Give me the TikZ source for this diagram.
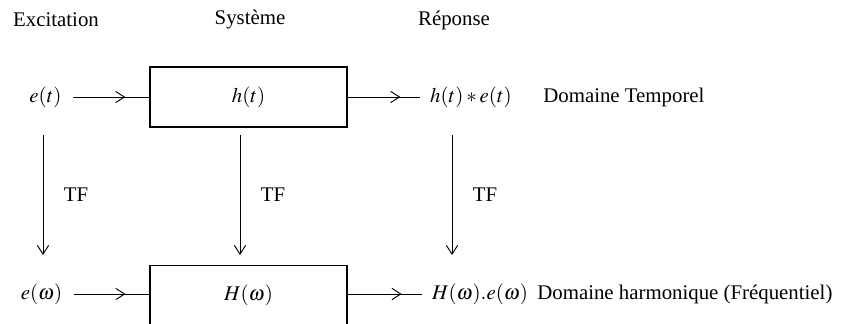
\documentclass[tikz,border=0pt]{standalone}
\usepackage{mathptmx}
\usepackage{fontspec}
\setmainfont{Liberation Serif}
\usepackage{tikz}
\usetikzlibrary{arrows.meta,decorations.markings}

\begin{document}
\begin{tikzpicture}[x=0.48pt,y=-0.48pt,
	>={Straight Barb[length=4.2pt,width=5.4pt]},
	systeme/.style={draw,line width=0.6pt,minimum width=94.6pt,minimum height=28.8pt,inner sep=0pt},
	signal/.style={line width=0.45pt,postaction={decorate},
		decoration={markings,mark=at position 0.7 with {\arrow{>}}}},
	tf/.style={line width=0.45pt,->}]
	\useasboundingbox (0,0) rectangle (845,323);
	\node (exc) at (56,20) {Excitation};
	\node (sys) at (250,20) {Système};
	\node (rep) at (454,20) {Réponse};
	\node (et) at (45.5,97) {$e(t)$};
	\node[systeme] (ht) at (248.5,97) {$h(t)$};
	\node (st) at (471,97) {$h(t)*e(t)$};
	\node[anchor=west] (dt) at (536,97) {Domaine Temporel};
	\node (ew) at (41.5,294) {$e(\omega)$};
	\node[systeme] (hw) at (248.5,295.5) {$H(\omega)$};
	\node (sw) at (480,294) {$H(\omega).e(\omega)$};
	\node[anchor=west] (dw) at (530,294) {Domaine harmonique (Fréquentiel)};
	\draw[signal,shorten <=2pt] (et) -- (ht);
	\draw[signal,shorten >=1.5pt] (ht) -- (st);
	\draw[signal,shorten <=2pt] (ew) -- (ew -| hw.west);
	\draw[signal,shorten >=1.5pt] (sw -| hw.east) -- (sw);
	\foreach \x/\n in {43/1,240/2,452/3} {
		\coordinate (haut\n) at (\x,135);
		\coordinate (bas\n) at (\x,255);
		\draw[tf] (haut\n) -- (bas\n) node[midway,right=6.5pt] {TF};
	}
\end{tikzpicture}
\end{document}
